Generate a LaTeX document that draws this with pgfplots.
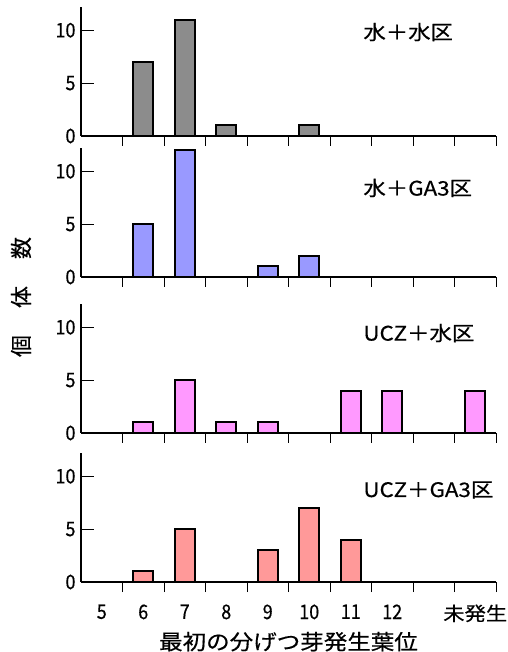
\documentclass[border=0pt]{standalone}
\usepackage{pgfplots}
\pgfplotsset{compat=1.18}
\usepackage{fontspec}
\setmainfont[FakeBold=0.5]{Noto Sans CJK JP}
\newfontfamily\jp[FakeStretch=1.12,FakeBold=0.5]{Noto Sans CJK JP}
\newfontfamily\tk[FakeStretch=0.9,FakeBold=0.5]{Noto Sans CJK JP}
\definecolor{cgray}{HTML}{8C8C8C}
\definecolor{cblue}{HTML}{9999FF}
\definecolor{cpink}{HTML}{FF99FF}
\definecolor{csalmon}{HTML}{FF9999}
\pgfplotsset{
  panel/.style={
    scale only axis, width=415pt, height=129pt, anchor=south west,
    xmin=-0.5, xmax=9.5, ymin=0, ymax=12.2,
    axis x line*=bottom, axis y line*=left,
    axis line style={line width=1.6pt, -},
    xtick={0,...,9}, xticklabels={},
    minor xtick={0.5,1.5,...,9.5},
    major x tick style={draw=none},
    ytick={0,5,10}, yticklabels={0,5,10},
    tick align=inside,
    major tick length=13pt, minor tick length=10pt,
    tick style={line width=0.9pt, black},
    ticklabel style={font=\tk\fontsize{20}{20}\selectfont},
    yticklabel style={xshift=-2pt},
    ybar, bar width=20pt, bar shift=0pt, clip=false,
    every axis plot/.append style={draw=black, line width=1.9pt},
  },
}
\begin{document}
\begin{tikzpicture}[x=1pt,y=1pt]
\useasboundingbox (0,0) rectangle (507,652);
% panel 1
\begin{axis}[panel, at={(81pt,516pt)}]
\addplot[fill=cgray] coordinates {(1,7) (2,11) (3,1) (5,1)};
\node[anchor=west, font=\jp\fontsize{20}{20}\selectfont] at (rel axis cs:0.672,0.806) {水＋水区};
\end{axis}
% panel 2
\begin{axis}[panel, at={(81pt,375pt)}]
\addplot[fill=cblue] coordinates {(1,5) (2,12) (4,1) (5,2)};
\node[anchor=west, font=\jp\fontsize{20}{20}\selectfont] at (rel axis cs:0.672,0.69) {水＋GA3区};
\end{axis}
% panel 3
\begin{axis}[panel, at={(81pt,219pt)}]
\addplot[fill=cpink] coordinates {(1,1) (2,5) (3,1) (4,1) (6,4) (7,4) (9,4)};
\node[anchor=west, font=\jp\fontsize{20}{20}\selectfont] at (rel axis cs:0.672,0.775) {UCZ＋水区};
\end{axis}
% panel 4
\begin{axis}[panel, at={(81pt,70pt)},
  xticklabels={5,6,7,8,9,10,11,12,,{\jp\fontsize{19}{19}\selectfont 未発生}},
  xticklabel style={yshift=-6pt},
  xlabel={最初の分げつ芽発生葉位},
  xlabel style={font=\jp\fontsize{21}{21}\selectfont, yshift=-3pt}]
\addplot[fill=csalmon] coordinates {(1,1) (2,5) (4,3) (5,7) (6,4)};
\node[anchor=west, font=\jp\fontsize{20}{20}\selectfont] at (rel axis cs:0.672,0.713) {UCZ＋GA3区};
\end{axis}
\node[rotate=90, font=\fontsize{22}{22}\selectfont] at (21,355) {個\hspace{27pt}体\hspace{27pt}数};
\end{tikzpicture}
\end{document}
